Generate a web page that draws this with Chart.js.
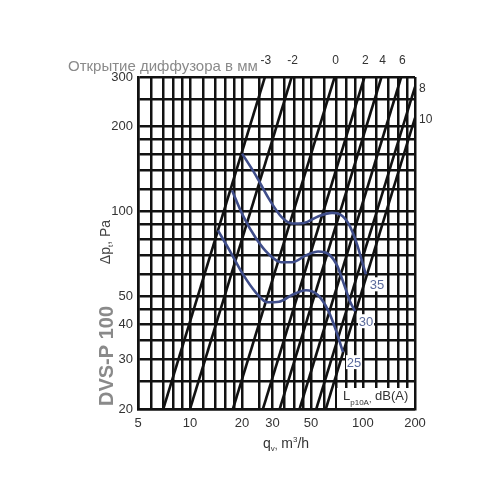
<!DOCTYPE html>
<html>
<head>
<meta charset="utf-8">
<script src="https://cdn.jsdelivr.net/npm/chart.js@4.4.1/dist/chart.umd.min.js"></script>
<style>
  html, body { margin: 0; padding: 0; background: #fff; }
  #wrap { width: 500px; height: 500px; }
</style>
</head>
<body>
<div id="wrap"><canvas id="chart" width="500" height="500"></canvas></div>
<script>
// grid + tick labels
const xGrid = [5, 6, 7, 8, 9, 10, 12, 14, 16, 18, 20, 25, 30, 35, 40, 45, 50, 60, 70, 80, 90, 100, 120, 140, 160, 180, 200];
const yGrid = [20, 25, 30, 35, 40, 45, 50, 60, 70, 80, 90, 100, 120, 140, 160, 180, 200, 250, 300];
const xLabels = [5, 10, 20, 30, 50, 100, 200];
const yLabels = [20, 30, 40, 50, 100, 200, 300];

// diffuser opening lines (mm): flow at 20 Pa and the upper end of each line
const openings = ['-3', '-2', '0', '2', '4', '6', '8', '10'];
const openingQ20 = [7, 10, 17.7, 26.4, 33, 43, 53.7, 61];
const openingQEnd = [27.1, 38.7, 68.6, 102, 128, 166.5, 200, 200];
const openingPEnd = [300, 300, 300, 300, 300, 300, 277, 215];

// noise curves Lp10A, dB(A)
const noiseLevels = ['35', '30', '25'];
const q35 = [20.0, 24.1, 28.6, 34.0, 38.9, 45.6, 55, 66.3, 73.7, 83, 92.4, 100, 104];
const p35 = [160.6, 134, 111, 95.4, 90.8, 91.2, 96.2, 99, 97.8, 90.1, 76.6, 65, 60];
const q30 = [17.5, 20.2, 24.1, 28.6, 33.6, 38.9, 46.8, 55, 63.6, 70.8, 77.7, 84.2, 90];
const p30 = [118.8, 97, 80.4, 70.6, 66.2, 66.2, 70, 72.3, 70.6, 64.5, 55.3, 48.1, 44.4];
const q25 = [14.5, 16.8, 20.0, 24.1, 27.9, 32.7, 39.1, 46.8, 55, 62.8, 69.8, 74.7, 76.7];
const p25 = [85.8, 73.5, 60.7, 51.6, 47.8, 48, 50.8, 52.7, 50.6, 44.8, 38, 33.4, 31.8];

const noiseQ = [q35, q30, q25];
const noiseP = [p35, p30, p25];

const BLUE = '#3f4d8a';
const NARROW = '"Liberation Sans Narrow", "Liberation Sans", Arial, sans-serif';
const SANS = '"Liberation Sans", Arial, sans-serif';

const toPoints = (qs, ps) => qs.map((q, i) => ({ x: q, y: ps[i] }));

const datasets = [];
// blue curves first so they sit on top
noiseLevels.forEach((lvl, i) => {
    datasets.push({
        label: lvl + ' dB(A)',
        data: toPoints(noiseQ[i], noiseP[i]),
        showLine: true,
        borderColor: BLUE,
        borderWidth: 2.6,
        pointRadius: 0,
        cubicInterpolationMode: 'monotone',
        fill: false
    });
});
openings.forEach((name, i) => {
    datasets.push({
        label: name + ' mm',
        data: [{ x: openingQ20[i], y: 20 }, { x: openingQEnd[i], y: openingPEnd[i] }],
        showLine: true,
        borderColor: '#111',
        borderWidth: 2.6,
        pointRadius: 0,
        fill: false
    });
});

// draws a row of text pieces (sub/superscripts) starting at x
function drawParts(ctx, parts, x, y, align) {
    let total = 0;
    parts.forEach(p => { ctx.font = p.font; total += ctx.measureText(p.t).width; });
    let cx = align === 'center' ? x - total / 2 : x;
    parts.forEach(p => {
        ctx.font = p.font;
        ctx.fillText(p.t, cx, y + (p.dy || 0));
        cx += ctx.measureText(p.t).width;
    });
}

const annotate = {
    id: 'annotate',
    afterDatasetsDraw(chart) {
        const { ctx, scales: { x, y } } = chart;
        ctx.save();
        ctx.textBaseline = 'alphabetic';

        // title above plot
        ctx.fillStyle = '#8a8a8a';
        ctx.font = '15px ' + SANS;
        ctx.textAlign = 'left';
        ctx.fillText('Открытие диффузора в мм', 68, 71);

        // opening labels
        ctx.fillStyle = '#333';
        ctx.font = '12px ' + NARROW;
        ctx.textAlign = 'center';
        openings.forEach((name, i) => {
            if (openingPEnd[i] >= 300) {
                ctx.fillText(name, x.getPixelForValue(openingQEnd[i]) + 1, 64);
            } else {
                ctx.textAlign = 'left';
                ctx.fillText(name, 419, y.getPixelForValue(openingPEnd[i]) + 5);
                ctx.textAlign = 'center';
            }
        });

        // noise level labels with white backing
        ctx.font = '13px ' + NARROW;
        noiseLevels.forEach((lvl, i) => {
            const qs = noiseQ[i], ps = noiseP[i];
            const ex = x.getPixelForValue(qs[qs.length - 1]) + 11;
            const ey = y.getPixelForValue(ps[ps.length - 1]) + 10;
            ctx.fillStyle = '#fff';
            ctx.fillRect(ex - 8, ey - 7, 16, 14);
            ctx.fillStyle = '#5a6a9c';
            ctx.fillText(lvl, ex, ey + 5);
        });

        // Lp10A box
        ctx.fillStyle = '#fff';
        ctx.fillRect(337, 388, 76, 20);
        ctx.fillStyle = '#333';
        ctx.textAlign = 'left';
        drawParts(ctx, [
            { t: 'L', font: '13px ' + SANS },
            { t: 'p10A', font: '8px ' + SANS, dy: 5 },
            { t: ',', font: '9px ' + SANS, dy: 2 },
            { t: ' dB(A)', font: '13px ' + SANS }
        ], 343, 400, 'left');

        // x axis title
        ctx.fillStyle = '#333';
        drawParts(ctx, [
            { t: 'q', font: '14px ' + SANS },
            { t: 'v', font: '8px ' + SANS, dy: 3 },
            { t: ',', font: '10px ' + SANS, dy: 1 },
            { t: ' m', font: '14px ' + SANS },
            { t: '3', font: '8px ' + SANS, dy: -6 },
            { t: '/h', font: '14px ' + SANS }
        ], 286, 448, 'center');

        // y axis title
        ctx.save();
        ctx.translate(110, 242);
        ctx.rotate(-Math.PI / 2);
        ctx.fillStyle = '#444';
        drawParts(ctx, [
            { t: 'Δp', font: '14px ' + SANS },
            { t: 't', font: '8px ' + SANS, dy: 3 },
            { t: ', Pa', font: '14px ' + SANS }
        ], 0, 0, 'center');
        ctx.restore();

        // product name
        ctx.save();
        ctx.translate(113, 356);
        ctx.rotate(-Math.PI / 2);
        ctx.fillStyle = '#8a8a8a';
        ctx.textAlign = 'center';
        ctx.font = 'bold 20px ' + SANS;
        ctx.fillText('DVS-P 100', 0, 0);
        ctx.restore();

        ctx.restore();
    }
};

const gridOpts = { color: '#111', lineWidth: 2.5, drawTicks: false };
const borderOpts = { display: true, color: '#111', width: 2.5 };

new Chart(document.getElementById('chart'), {
    type: 'scatter',
    data: { datasets: datasets },
    options: {
        responsive: false,
        animation: false,
        layout: { padding: { left: 95, right: 85, top: 77, bottom: 71 } },
        plugins: {
            legend: { display: false },
            tooltip: { enabled: false }
        },
        scales: {
            x: {
                type: 'logarithmic',
                min: 5,
                max: 200,
                afterBuildTicks: s => { s.ticks = xGrid.map(v => ({ value: v })); },
                afterFit: s => { s.height = 20; },
                grid: gridOpts,
                border: borderOpts,
                ticks: {
                    autoSkip: false,
                    maxRotation: 0,
                    padding: 7,
                    color: '#333',
                    font: { family: NARROW, size: 13 },
                    callback: v => xLabels.includes(v) ? String(v) : ''
                }
            },
            y: {
                type: 'logarithmic',
                min: 20,
                max: 300,
                afterBuildTicks: s => { s.ticks = yGrid.map(v => ({ value: v })); },
                afterFit: s => { s.width = 43; },
                grid: gridOpts,
                border: borderOpts,
                ticks: {
                    autoSkip: false,
                    padding: 5,
                    color: '#333',
                    font: { family: NARROW, size: 13 },
                    callback: v => yLabels.includes(v) ? String(v) : ''
                }
            }
        }
    },
    plugins: [annotate]
});
</script>
</body>
</html>
